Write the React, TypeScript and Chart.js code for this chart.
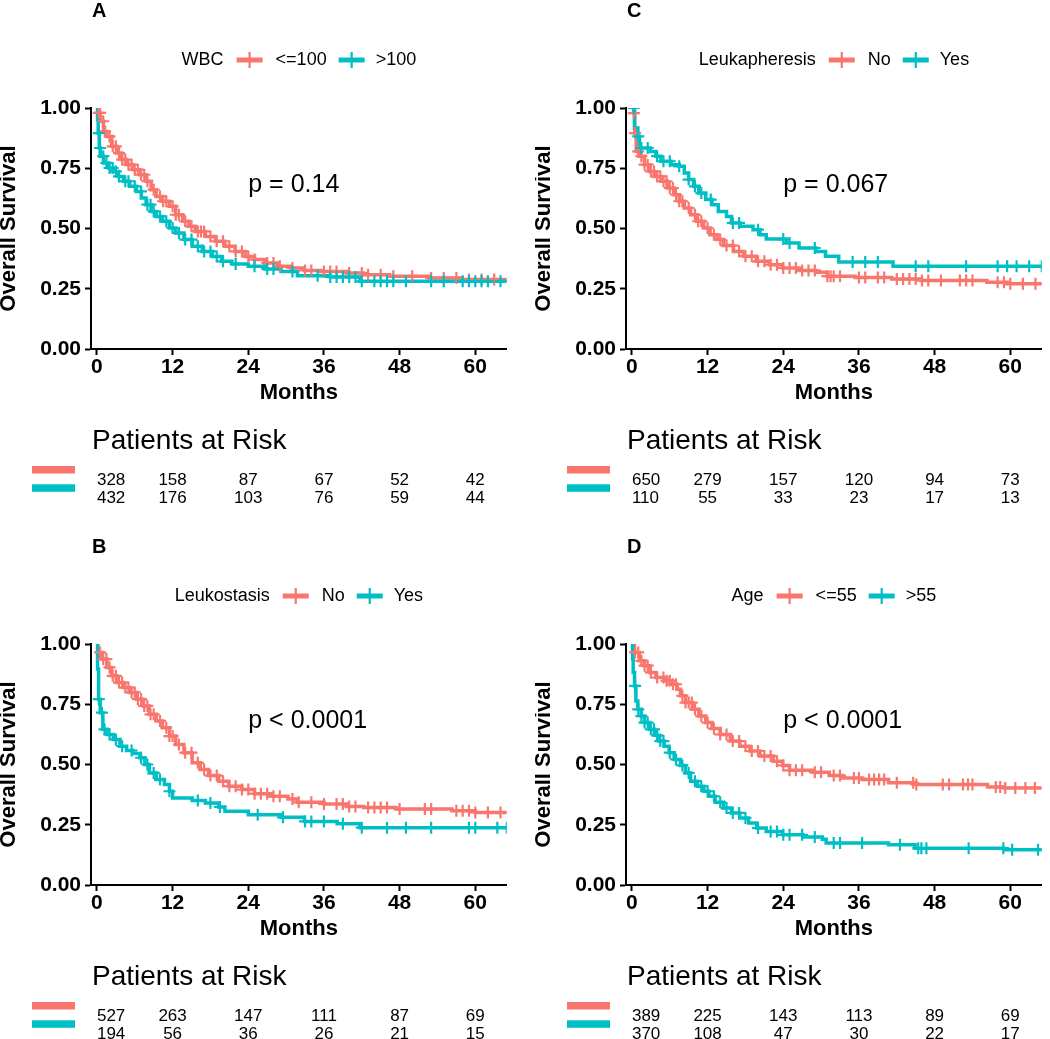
import React, { useEffect, useRef } from 'react';
import { Chart, registerables } from 'chart.js';

Chart.register(...registerables);

const RED = '#F8766D';
const TEAL = '#00BFC4';
const FONT = '"Liberation Sans", Arial, Helvetica, sans-serif';

const monthTicks = [0, 12, 24, 36, 48, 60];
const survivalTicks = [0, 0.25, 0.5, 0.75, 1];
const riskTimes = [0, 12, 24, 36, 48, 60];

// ---------- Panel A: WBC ----------
const wbcLow = [[0,1],[0.26,0.98],[0.52,0.945],[1.04,0.903],[1.56,0.882],[2.35,0.841],[3.13,0.813],[3.91,0.786],[4.69,0.765],[5.74,0.744],[6.78,0.723],[7.82,0.696],[8.6,0.661],[9.39,0.633],[10.4,0.613],[11.5,0.592],[12.5,0.557],[13.6,0.53],[14.6,0.509],[15.6,0.488],[17.2,0.467],[18.8,0.447],[20.3,0.426],[21.9,0.405],[23.5,0.384],[25,0.371],[26.6,0.357],[28.7,0.343],[30.8,0.336],[32.9,0.326],[35.5,0.322],[39.6,0.315],[42.3,0.308],[46.4,0.302],[52.7,0.295],[57.9,0.288],[65,0.288]];
const wbcHigh = [[0,1],[0.1,0.95],[0.2,0.896],[0.37,0.834],[0.52,0.8],[1.04,0.772],[1.83,0.751],[2.6,0.737],[3.4,0.716],[4.2,0.696],[5.2,0.675],[6.26,0.654],[7.04,0.627],[7.8,0.599],[8.6,0.571],[9.4,0.55],[10.4,0.53],[11.5,0.502],[12.5,0.481],[13.8,0.454],[15.1,0.426],[16.7,0.405],[18.3,0.384],[19.8,0.364],[21.4,0.353],[24,0.343],[26.6,0.332],[29.2,0.322],[31.8,0.304],[37,0.299],[41.7,0.281],[65,0.281]];
const wbcLowCensor = [0.3,0.5,1,1.3,2,2.5,3,3.5,4,4.5,5,5.5,6,6.5,7,7.5,8,9,10,10.5,11,12,12.5,13,14,15,16,16.5,17,18,19,20,21,22,23,24,25,27,28,29,31,33,34,36,37,38,40,42,43,45,47,50,53,55,57,59,61,63];
const wbcHighCensor = [0.3,0.5,1,1.5,2,2.5,3,3.5,4.5,5,6,7,8,8.5,9,10,11,12,13,14,15,16,17,18,19,20,22,25,27,28,31,35,37,38,39,40,41,42,44,45,46,47,49,53,55,58,59,60,61,62,64];
const wbcRiskLow = [328, 158, 87, 67, 52, 42];
const wbcRiskHigh = [432, 176, 103, 76, 59, 44];

// ---------- Panel C: Leukapheresis ----------
const pheresisNo = [[0,1],[0.26,0.979],[0.42,0.896],[0.68,0.82],[1.2,0.8],[2,0.765],[2.8,0.737],[3.55,0.716],[4.6,0.696],[5.6,0.668],[6.7,0.64],[7.5,0.613],[8.3,0.585],[9.3,0.557],[10.3,0.53],[11.4,0.502],[12.4,0.474],[13.5,0.454],[14.5,0.429],[16.1,0.405],[17.7,0.385],[19.7,0.364],[21.8,0.35],[23.9,0.336],[26.5,0.326],[29.2,0.318],[31,0.302],[35.4,0.297],[41.2,0.29],[45.9,0.284],[56.3,0.277],[59.5,0.271],[65,0.271]];
const pheresisYes = [[0,1],[0.42,0.917],[0.94,0.882],[1.2,0.834],[2.9,0.82],[3.8,0.8],[4.6,0.779],[6.2,0.765],[7.5,0.758],[8.3,0.73],[9,0.703],[9.8,0.675],[10.6,0.647],[11.7,0.62],[12.7,0.599],[13.7,0.571],[15,0.55],[15.8,0.523],[17.1,0.509],[19.2,0.495],[20.3,0.474],[21.3,0.456],[24.5,0.44],[26.5,0.419],[29.2,0.405],[30.7,0.385],[32.8,0.361],[41.4,0.343],[65,0.343]];
const pheresisNoCensor = [0.3,0.5,1,1.5,2,2.5,3,3.5,4,4.5,5,5.5,6,6.5,7,7.5,8,9,10,10.5,11,12,13,14,15,16,17,18,19,20,21,22,23,24,25,26,27,28,29,31,31.5,32,33,36,37,39,40,42,43,44,45,46,47,49,52,53,54,58,59,60,62,64];
const pheresisYesCensor = [0.3,1,1.5,2.5,4,5,6,7.5,9,10,11,12.5,16,17,20,24,25,29,35,37,39,45,47,53,58,59.5,61,63,65];
const pheresisRiskNo = [650, 279, 157, 120, 94, 73];
const pheresisRiskYes = [110, 55, 33, 23, 17, 13];

// ---------- Panel B: Leukostasis ----------
const stasisNo = [[0,1],[0.16,0.965],[0.8,0.9375],[1.6,0.903],[2.3,0.868],[3.1,0.84],[4.2,0.819],[5.2,0.799],[6.3,0.771],[7.3,0.743],[8.3,0.708],[9.4,0.681],[10.4,0.653],[11.5,0.618],[12.5,0.583],[13.8,0.549],[15.1,0.507],[16.4,0.479],[17.7,0.454],[19.3,0.431],[20.9,0.41],[23,0.396],[25,0.379],[27.6,0.368],[30.3,0.357],[31.8,0.343],[36,0.336],[39.6,0.326],[42.3,0.322],[47.5,0.315],[56.3,0.308],[60,0.301],[65,0.301]];
const stasisYes = [[0,1],[0.1,0.896],[0.26,0.771],[0.52,0.715],[0.94,0.646],[1.6,0.625],[2.6,0.604],[3.65,0.576],[4.7,0.558],[5.7,0.546],[6.8,0.528],[7.6,0.5],[8.3,0.465],[9.4,0.4375],[10.7,0.417],[11.5,0.389],[12,0.361],[15.1,0.351],[17.2,0.34],[19.3,0.324],[20.3,0.306],[24,0.292],[29.2,0.281],[32.9,0.264],[38.1,0.254],[41.7,0.238],[65,0.238]];
const stasisNoCensor = [0.5,1,1.5,2,2.5,3,3.5,4,4.5,5,5.5,6,6.5,7,7.5,8,8.5,9,10,11,11.5,12,13,14,15,16,17,18,19,20,21,22,23,24,25,26,27,28,29,31,32,34,36,38,39,40,41,43,44,45,46,48,52,53,57,58,59,60,62,64];
const stasisYesCensor = [0.3,0.8,1.2,2,3,4,5.5,7,8,9,10,11.5,16,18,19.5,25.5,29.5,33,34,36,39,42,46,49,53,59,60,63.5,65];
const stasisRiskNo = [527, 263, 147, 111, 87, 69];
const stasisRiskYes = [194, 56, 36, 26, 21, 15];

// ---------- Panel D: Age ----------
const ageLow = [[0,1],[0.42,0.965],[1.2,0.93],[2,0.91],[2.8,0.882],[3.8,0.861],[5.1,0.847],[6.4,0.833],[7.2,0.8125],[7.7,0.785],[8.5,0.757],[9.6,0.729],[10.6,0.701],[11.7,0.674],[12.7,0.649],[14,0.625],[15.6,0.597],[17.1,0.576],[18.7,0.556],[20.3,0.535],[22.4,0.514],[23.9,0.496],[25,0.476],[28.6,0.468],[31.3,0.454],[33.4,0.444],[36.5,0.4375],[40.7,0.424],[44.9,0.417],[56.4,0.407],[59,0.403],[65,0.403]];
const ageHigh = [[0,1],[0.1,0.9375],[0.2,0.882],[0.42,0.826],[0.63,0.764],[0.94,0.729],[1.46,0.701],[2,0.674],[2.8,0.646],[3.55,0.621],[4.3,0.597],[5.1,0.576],[5.9,0.549],[6.7,0.521],[7.7,0.496],[8.5,0.465],[9.3,0.431],[10.4,0.41],[11.4,0.389],[12.2,0.368],[13.2,0.343],[14.5,0.319],[15.8,0.299],[17.1,0.278],[18.5,0.257],[19.8,0.236],[21.3,0.222],[23.9,0.208],[27.1,0.199],[30.2,0.19],[30.8,0.174],[40.7,0.167],[44.9,0.153],[59,0.146],[65,0.146]];
const ageLowCensor = [0.5,1,1.5,2,2.5,3,4,5,5.5,6,6.5,7,8,8.5,9,9.5,10,11,12,13,14,15,16,17,18,19,20,21,22,23,24,25,26,27,29,30,32,33,35.2,36,37.6,38.4,39.2,40,42,44.6,45.1,49.3,50.3,52.5,53.3,54,57.7,58.4,59.2,60.8,62.4,63.9];
const ageHighCensor = [0.5,1,1.5,2,2.5,3,3.5,4,4.5,5,6,7,8,9,10,11,12,13,14,15,16,17,18,20,22,23,24,25,27,29,32,33,36.5,42.5,45.4,45.9,46.7,53.4,58.9,60.3,64.4];
const ageRiskLow = [389, 225, 143, 113, 89, 69];
const ageRiskHigh = [370, 108, 47, 30, 22, 17];

type Curve = number[][];
interface PanelCfg {
  letter: string;
  legendTitle: string;
  labels: [string, string];
  pText: string;
  red: Curve;
  teal: Curve;
  redCensor: number[];
  tealCensor: number[];
  riskRed: number[];
  riskTeal: number[];
}

const stepAt = (curve: Curve, t: number) => {
  let s = curve[0][1];
  for (const [ct, cs] of curve) {
    if (ct <= t) s = cs;
    else break;
  }
  return s;
};

const W = 515;
const H = 503;

function KMPanel({ cfg, left, top }: { cfg: PanelCfg; left: number; top: number }) {
  const ref = useRef<HTMLCanvasElement | null>(null);
  useEffect(() => {
    if (!ref.current) return;
    const drawSym = (ctx: CanvasRenderingContext2D, x: number, y: number, w: number, color: string) => {
      ctx.save();
      ctx.strokeStyle = color;
      ctx.lineWidth = 5;
      ctx.beginPath();
      ctx.moveTo(x, y);
      ctx.lineTo(x + w, y);
      ctx.stroke();
      ctx.lineWidth = 2.2;
      ctx.beginPath();
      ctx.moveTo(x + w / 2, y - 8);
      ctx.lineTo(x + w / 2, y + 8);
      ctx.stroke();
      ctx.restore();
    };
    const extras = {
      id: 'kmExtras',
      afterDraw(chart: any) {
        const ctx: CanvasRenderingContext2D = chart.ctx;
        const xs = chart.scales.x;
        const ys = chart.scales.y;
        ctx.save();
        ctx.fillStyle = '#000';
        // panel letter
        ctx.font = `bold 20px ${FONT}`;
        ctx.textAlign = 'left';
        ctx.textBaseline = 'alphabetic';
        ctx.fillText(cfg.letter, 92, 17);
        // legend
        ctx.font = `18px ${FONT}`;
        ctx.textBaseline = 'middle';
        const wT = ctx.measureText(cfg.legendTitle).width;
        const w1 = ctx.measureText(cfg.labels[0]).width;
        const w2 = ctx.measureText(cfg.labels[1]).width;
        const symW = 26;
        const total = wT + 13 + symW + 13 + w1 + 12 + symW + 11 + w2;
        let lx = (chart.chartArea.left + chart.chartArea.right) / 2 - total / 2;
        const ly = 60;
        ctx.fillText(cfg.legendTitle, lx, ly);
        lx += wT + 13;
        drawSym(ctx, lx, ly, symW, RED);
        lx += symW + 13;
        ctx.fillText(cfg.labels[0], lx, ly);
        lx += w1 + 12;
        drawSym(ctx, lx, ly, symW, TEAL);
        lx += symW + 11;
        ctx.fillText(cfg.labels[1], lx, ly);
        // p value
        ctx.font = `25px ${FONT}`;
        ctx.textBaseline = 'alphabetic';
        ctx.fillText(cfg.pText, xs.getPixelForValue(24), ys.getPixelForValue(0.653));
        // risk table
        ctx.font = `28px ${FONT}`;
        ctx.fillText('Patients at Risk', 92, 449);
        ctx.fillStyle = RED;
        ctx.fillRect(32, 466, 43, 7.5);
        ctx.fillStyle = TEAL;
        ctx.fillRect(32, 484.3, 43, 7.5);
        ctx.fillStyle = '#000';
        ctx.font = `17px ${FONT}`;
        riskTimes.forEach((t, i) => {
          const px = xs.getPixelForValue(t);
          ctx.textAlign = i === 0 ? 'left' : 'center';
          ctx.fillText(String(cfg.riskRed[i]), px, 485);
          ctx.fillText(String(cfg.riskTeal[i]), px, 502.5);
        });
        ctx.restore();
      },
    };
    const toPts = (c: Curve) => c.map(([x, y]) => ({ x, y }));
    const censorPts = (c: Curve, times: number[]) => times.map((t) => ({ x: t, y: stepAt(c, t) }));
    const tickFont = { family: FONT, size: 21, weight: 'bold' as const };
    const chart = new Chart(ref.current, {
      type: 'line',
      data: {
        datasets: [
          {
            label: cfg.labels[0],
            data: toPts(cfg.red),
            borderColor: RED,
            backgroundColor: RED,
            borderWidth: 3.5,
            stepped: 'before',
            pointRadius: 0,
            fill: false,
            order: 4,
          },
          {
            label: cfg.labels[1],
            data: toPts(cfg.teal),
            borderColor: TEAL,
            backgroundColor: TEAL,
            borderWidth: 3.5,
            stepped: 'before',
            pointRadius: 0,
            fill: false,
            order: 3,
          },
          {
            label: cfg.labels[0] + ' censored',
            data: censorPts(cfg.red, cfg.redCensor),
            showLine: false,
            pointStyle: 'cross',
            pointRadius: 6,
            pointBorderWidth: 2.2,
            borderColor: RED,
            backgroundColor: RED,
            order: 2,
          },
          {
            label: cfg.labels[1] + ' censored',
            data: censorPts(cfg.teal, cfg.tealCensor),
            showLine: false,
            pointStyle: 'cross',
            pointRadius: 6,
            pointBorderWidth: 2.2,
            borderColor: TEAL,
            backgroundColor: TEAL,
            order: 1,
          },
        ],
      } as any,
      options: {
        responsive: false,
        animation: false,
        events: [],
        layout: { padding: { left: 0, right: 3, top: 108, bottom: H - 349 - 57 } },
        plugins: { legend: { display: false }, tooltip: { enabled: false }, title: { display: false } },
        scales: {
          x: {
            type: 'linear',
            min: -0.94,
            max: 65,
            afterBuildTicks: (axis: any) => {
              axis.ticks = monthTicks.map((v) => ({ value: v }));
            },
            afterFit: (scale: any) => {
              scale.height = 57;
            },
            ticks: { font: tickFont, color: '#000', padding: 0, maxRotation: 0, autoSkip: false },
            grid: { drawOnChartArea: false, drawTicks: true, tickLength: 6, tickWidth: 2, tickColor: '#000' },
            border: { display: true, color: '#000', width: 2 },
            title: {
              display: true,
              text: 'Months',
              color: '#000',
              font: { family: FONT, size: 22, weight: 'bold' },
              padding: 0,
            },
          },
          y: {
            type: 'linear',
            min: 0,
            max: 1,
            afterBuildTicks: (axis: any) => {
              axis.ticks = survivalTicks.map((v) => ({ value: v }));
            },
            afterFit: (scale: any) => {
              scale.width = 91;
            },
            ticks: {
              font: tickFont,
              color: '#000',
              padding: 4,
              callback: (v: any) => Number(v).toFixed(2),
            },
            grid: { drawOnChartArea: false, drawTicks: true, tickLength: 6, tickWidth: 2, tickColor: '#000' },
            border: { display: true, color: '#000', width: 2 },
            title: {
              display: true,
              text: 'Overall Survival',
              color: '#000',
              font: { family: FONT, size: 22, weight: 'bold', lineHeight: 0.78 },
              padding: 0,
            },
          },
        },
      } as any,
      plugins: [extras],
    });
    return () => chart.destroy();
  }, [cfg]);
  return (
    <canvas
      ref={ref}
      width={W}
      height={H}
      style={{ position: 'absolute', left, top, width: W, height: H }}
    />
  );
}

const panelA: PanelCfg = {
  letter: 'A', legendTitle: 'WBC', labels: ['<=100', '>100'], pText: 'p = 0.14',
  red: wbcLow, teal: wbcHigh, redCensor: wbcLowCensor, tealCensor: wbcHighCensor,
  riskRed: wbcRiskLow, riskTeal: wbcRiskHigh,
};
const panelC: PanelCfg = {
  letter: 'C', legendTitle: 'Leukapheresis', labels: ['No', 'Yes'], pText: 'p = 0.067',
  red: pheresisNo, teal: pheresisYes, redCensor: pheresisNoCensor, tealCensor: pheresisYesCensor,
  riskRed: pheresisRiskNo, riskTeal: pheresisRiskYes,
};
const panelB: PanelCfg = {
  letter: 'B', legendTitle: 'Leukostasis', labels: ['No', 'Yes'], pText: 'p < 0.0001',
  red: stasisNo, teal: stasisYes, redCensor: stasisNoCensor, tealCensor: stasisYesCensor,
  riskRed: stasisRiskNo, riskTeal: stasisRiskYes,
};
const panelD: PanelCfg = {
  letter: 'D', legendTitle: 'Age', labels: ['<=55', '>55'], pText: 'p < 0.0001',
  red: ageLow, teal: ageHigh, redCensor: ageLowCensor, tealCensor: ageHighCensor,
  riskRed: ageRiskLow, riskTeal: ageRiskHigh,
};

export default function App() {
  return (
    <div style={{ position: 'absolute', left: 0, top: 0, width: 1050, height: 1039, background: '#fff', overflow: 'hidden' }}>
      <KMPanel cfg={panelA} left={0} top={0} />
      <KMPanel cfg={panelC} left={535} top={0} />
      <KMPanel cfg={panelB} left={0} top={536} />
      <KMPanel cfg={panelD} left={535} top={536} />
    </div>
  );
}
